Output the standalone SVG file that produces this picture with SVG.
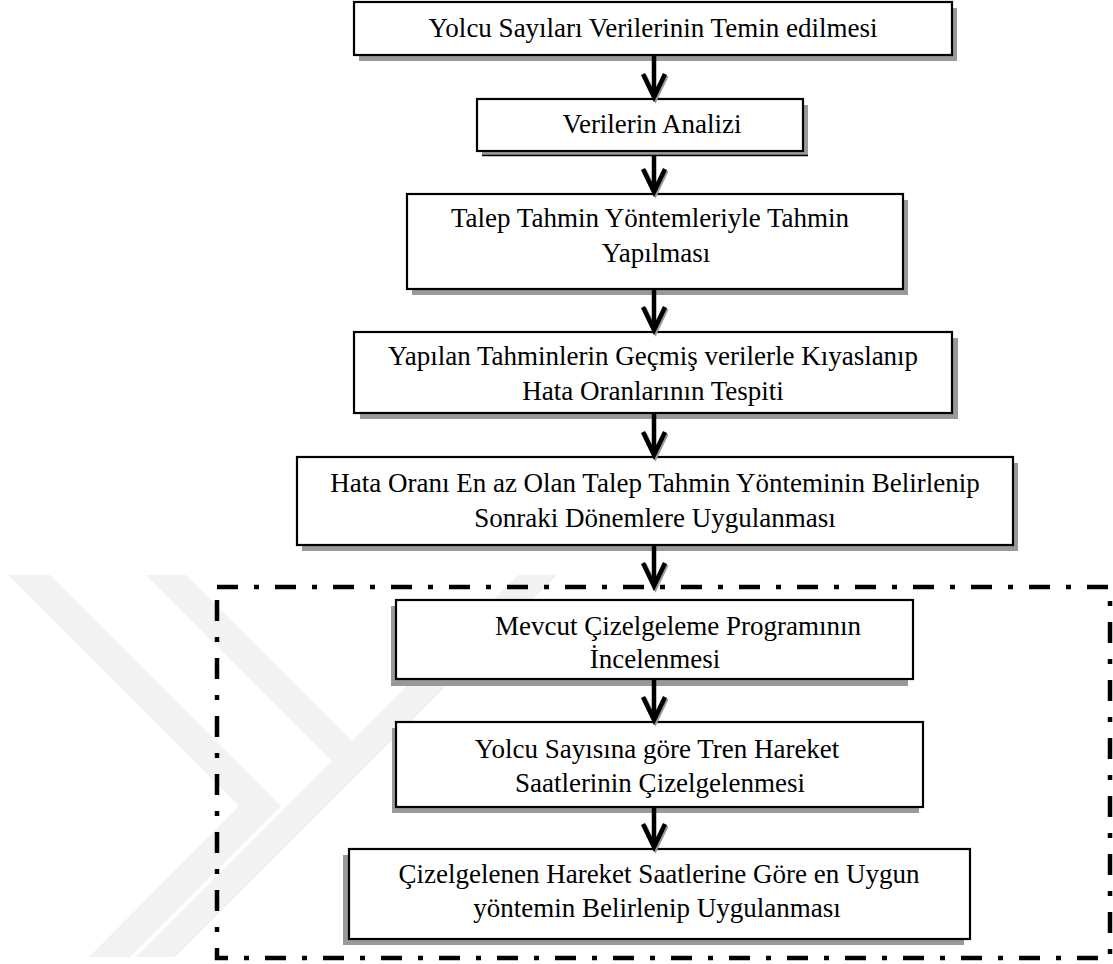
<svg xmlns="http://www.w3.org/2000/svg" width="1113" height="964" viewBox="0 0 1113 964">
<defs>
<style>
.box{fill:#fff;stroke:#000;stroke-width:2.2}
.sh{fill:#999}
.t{font-family:"Liberation Serif","Times New Roman",serif;font-size:27px;fill:#000;text-anchor:middle}
.wm{fill:#f2f2f2}
.ar{fill:none;stroke:#000;stroke-width:4.5;stroke-linejoin:miter}
.ars{fill:none;stroke:#9a9a9a;stroke-width:4.5}
.frame{fill:none;stroke:#000;stroke-width:4.5;stroke-dasharray:21 16 5 16}
</style>
</defs>
<rect width="1113" height="964" fill="#fff"/>
<g id="watermark">
<polygon class="wm" points="8,575 50,575 281,806 130,957 89,957 239,806"/>
<polygon class="wm" points="146,575 186,575 352,741 518,575 557,575 175,957 136,957 332,761"/>
</g>
<g id="frame">
<rect class="frame" x="217" y="587" width="893" height="371"/>
</g>
<g font-family="Liberation Serif, Times New Roman, serif">
<g id="n1">
<rect class="sh" x="359" y="8" width="598" height="53"/>
<rect class="box" x="354" y="2" width="598" height="53"/>
<text class="t" x="653" y="37">Yolcu Sayıları Verilerinin Temin edilmesi</text>
</g>
<g id="n2">
<rect class="sh" x="482" y="105" width="326" height="51"/>
<line x1="482" y1="155.5" x2="808" y2="155.5" stroke="#000" stroke-width="1.5"/>
<rect class="box" x="477" y="99" width="326" height="52"/>
<text class="t" x="652" y="133">Verilerin Analizi</text>
</g>
<g id="n3">
<rect class="sh" x="412" y="200" width="496" height="95"/>
<rect class="box" x="407" y="194" width="496" height="95"/>
<text class="t" x="650" y="227">Talep Tahmin Yöntemleriyle Tahmin</text>
<text class="t" x="656" y="262">Yapılması</text>
</g>
<g id="n4">
<rect class="sh" x="360" y="338" width="598" height="81"/>
<rect class="box" x="354" y="332" width="598" height="81"/>
<text class="t" x="653" y="365">Yapılan Tahminlerin Geçmiş verilerle Kıyaslanıp</text>
<text class="t" x="653" y="400">Hata Oranlarının Tespiti</text>
</g>
<g id="n5">
<rect class="sh" x="302" y="463" width="716" height="88"/>
<rect class="box" x="297" y="457" width="716" height="88"/>
<text class="t" x="655" y="492">Hata Oranı En az Olan Talep Tahmin Yönteminin Belirlenip</text>
<text class="t" x="655" y="527">Sonraki Dönemlere Uygulanması</text>
</g>
<g id="n6">
<rect class="sh" x="391" y="606" width="517" height="80"/>
<rect class="box" x="396" y="600" width="517" height="79"/>
<text class="t" x="678" y="635">Mevcut Çizelgeleme Programının</text>
<text class="t" x="655" y="668">İncelenmesi</text>
</g>
<g id="n7">
<rect class="sh" x="392" y="728" width="527" height="85"/>
<rect class="box" x="396" y="722" width="527" height="85"/>
<text class="t" x="657" y="758">Yolcu Sayısına göre Tren Hareket</text>
<text class="t" x="660" y="792">Saatlerinin Çizelgelenmesi</text>
</g>
<g id="n8">
<rect class="sh" x="343" y="855" width="621" height="90"/>
<rect class="box" x="349" y="849" width="621" height="90"/>
<text class="t" x="659" y="883">Çizelgelenen Hareket Saatlerine Göre en Uygun</text>
<text class="t" x="657" y="917">yöntemin Belirlenip Uygulanması</text>
</g>
</g>
<g id="connectors">
<g transform="translate(1.5,1.5)">
<path class="ars" d="M643,74 L654,97 L665,74"/>
<path class="ars" d="M643,169 L654,192 L665,169"/>
<path class="ars" d="M643,307 L654,330 L665,307"/>
<path class="ars" d="M643,432 L654,455 L665,432"/>
<path class="ars" d="M643,563 L654,586 L665,563"/>
<path class="ars" d="M643,697 L654,720 L665,697"/>
<path class="ars" d="M643,824 L654,847 L665,824"/>
</g>
<path class="ar" d="M654,55 V96 M643,74 L654,97 L665,74"/>
<path class="ar" d="M654,156 V191 M643,169 L654,192 L665,169"/>
<path class="ar" d="M654,289 V329 M643,307 L654,330 L665,307"/>
<path class="ar" d="M654,413 V454 M643,432 L654,455 L665,432"/>
<path class="ar" d="M654,545 V585 M643,563 L654,586 L665,563"/>
<path class="ar" d="M654,679 V719 M643,697 L654,720 L665,697"/>
<path class="ar" d="M654,807 V846 M643,824 L654,847 L665,824"/>
</g>
</svg>
